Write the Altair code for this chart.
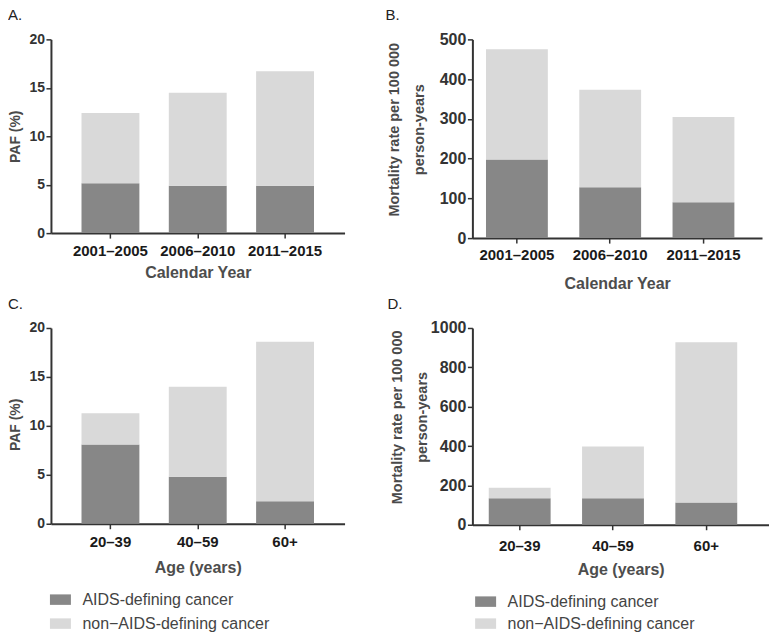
import altair as alt
import pandas as pd

# ---- data ----
years = ["2001–2005", "2006–2010", "2011–2015"]
ages = ["20–39", "40–59", "60+"]
series = ["AIDS-defining cancer", "non−AIDS-defining cancer"]
colors = ["#878787", "#d9d9d9"]

paf_year_aids = [5.15, 4.9, 4.9]
paf_year_total = [12.4, 14.5, 16.7]
rate_year_aids = [198, 128, 90]
rate_year_total = [475, 373, 305]
paf_age_aids = [8.1, 4.8, 2.3]
paf_age_total = [11.3, 14.0, 18.6]
rate_age_aids = [135, 135, 113]
rate_age_total = [188, 397, 928]

FONT = "Liberation Sans"
LEG_PATH = "M-2,-1L2,-1L2,1L-2,1Z"


def make_df(cats, aids, total):
    rows = []
    for c, a, t in zip(cats, aids, total):
        rows.append({"cat": c, "series": series[0], "lo": 0, "hi": a})
        rows.append({"cat": c, "series": series[1], "lo": a, "hi": t})
    return pd.DataFrame(rows)


def panel(cats, aids, total, ymax, ystep, ytitle, xtitle, label, w, h,
          po, al, ylab_size, ytitle_size, ytitle_x, ytitle_y, xlab_pad,
          xtitle_y, title_dx, title_offset, legend):
    df = make_df(cats, aids, total)
    return alt.Chart(df).mark_bar().encode(
        x=alt.X("cat:N", sort=cats,
                scale=alt.Scale(paddingInner=0.337, paddingOuter=po, align=al),
                axis=alt.Axis(title=xtitle, labelAngle=0, labelFont=FONT,
                              labelFontSize=15, labelFontWeight="bold",
                              labelColor="#1a1a1a", labelBaseline="alphabetic",
                              labelPadding=xlab_pad, tickSize=5, tickWidth=1.5,
                              tickColor="#333333", domainColor="#333333",
                              domainWidth=2, titleFont=FONT, titleFontSize=16,
                              titleFontWeight="bold", titleColor="#4d4d4d",
                              titleBaseline="alphabetic", titleY=xtitle_y,
                              titleX=w / 2, titleAlign="center")),
        y=alt.Y("hi:Q",
                scale=alt.Scale(domain=[0, ymax], nice=False),
                axis=alt.Axis(title=ytitle, values=list(range(0, ymax + 1, ystep)),
                              format="d",
                              grid=False, labelFont=FONT, labelFontSize=ylab_size,
                              labelFontWeight="bold", labelColor="#333333",
                              labelPadding=1.5, tickSize=5, tickWidth=1.5,
                              tickColor="#333333", domainColor="#333333",
                              domainWidth=2, titleFont=FONT,
                              titleFontSize=ytitle_size, titleFontWeight="bold",
                              titleColor="#4a4a4a", titleBaseline="alphabetic",
                              titleAlign="center", titleAngle=270,
                              titleX=ytitle_x, titleY=ytitle_y,
                              titleLineHeight=25)),
        y2="lo:Q",
        color=alt.Color("series:N",
                        scale=alt.Scale(domain=series, range=colors),
                        legend=legend),
    ).properties(
        width=w, height=h,
        title=alt.TitleParams(label, anchor="start", frame="group", dx=title_dx,
                              offset=title_offset, font=FONT, fontSize=15,
                              fontWeight="normal", color="#222222",
                              baseline="alphabetic"),
    )


def leg(x, y, rowpad):
    return alt.Legend(orient="none", legendX=x, legendY=y, title=None,
                      symbolType=LEG_PATH, symbolSize=110.25,
                      symbolStrokeWidth=0, labelFont=FONT, labelFontSize=16,
                      labelColor="#444444", labelOffset=14, rowPadding=rowpad,
                      labelLimit=400, padding=0, direction="vertical")


A = panel(years, paf_year_aids, paf_year_total, 20, 5, "PAF (%)", "Calendar Year",
          "A.", 294, 194, 0.35, 0.5, 14, 14, -31, 97, 17, 44, -43, -3, None)
B = panel(years, rate_year_aids, rate_year_total, 500, 100,
          ["Mortality rate per 100 000", "person-years"], "Calendar Year",
          "B.", 290, 199, 0.221, 0.33, 16, 14.5, -74, 90, 16, 50.5, -87, -4, None)
C = panel(ages, paf_age_aids, paf_age_total, 20, 5, "PAF (%)", "Age (years)",
          "C.", 294, 196, 0.35, 0.5, 14, 14, -31, 96.5, 17.5, 48.7, -43, -3,
          leg(1.5, 264, 8))
D = panel(ages, rate_age_aids, rate_age_total, 1000, 200,
          ["Mortality rate per 100 000", "person-years"], "Age (years)",
          "D.", 297, 197, 0.258, 0.34, 16, 14.5, -71, 89, 21, 49.6, -85, -4,
          leg(5.25, 266, 6))

chart = alt.concat(
    A, B, C, D, columns=2, bounds="flush",
    spacing={"row": 90, "column": 128},
).resolve_scale(color="independent").resolve_legend(color="independent").properties(
    padding=0, background="white"
).configure_view(stroke=None)

chart.save("out.html", embed_options={"renderer": "svg", "actions": False})
